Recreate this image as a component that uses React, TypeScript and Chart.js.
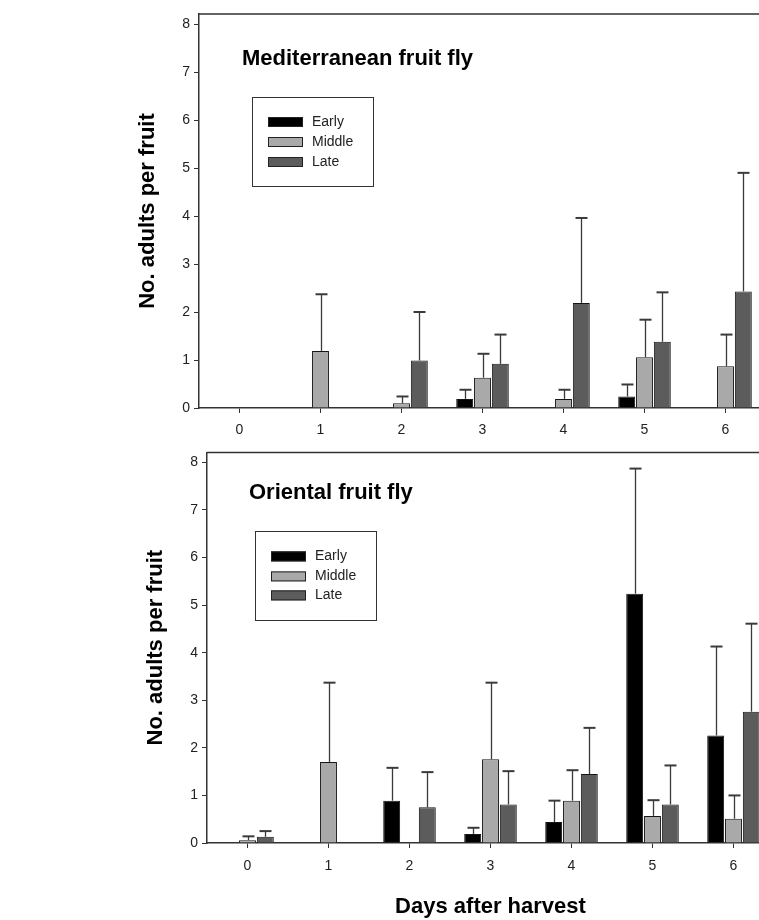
import React, { useEffect, useRef } from 'react';
import { Chart, registerables } from 'chart.js';

Chart.register(...registerables);

// ---------- data ----------
const days = ['0', '1', '2', '3', '4', '5', '6'];
const seriesNames = ['Early', 'Middle', 'Late'];
const seriesColors = ['#000000', '#a9a9a9', '#5c5c5c'];
const yTickValues = [0, 1, 2, 3, 4, 5, 6, 7, 8];

// Mediterranean fruit fly: means and upper standard errors
const medEarly = [0, 0, 0, 0.19, 0, 0.24, 0];
const medEarlyErr = [null, null, null, 0.19, null, 0.25, null];
const medMiddle = [0, 1.19, 0.1, 0.63, 0.19, 1.06, 0.87];
const medMiddleErr = [null, 1.18, 0.14, 0.5, 0.19, 0.78, 0.66];
const medLate = [0, 0, 0.99, 0.92, 2.19, 1.38, 2.43];
const medLateErr = [null, null, 1.01, 0.61, 1.77, 1.03, 2.47];

// Oriental fruit fly: means and upper standard errors
const oriEarly = [0, 0, 0.89, 0.19, 0.44, 5.24, 2.26];
const oriEarlyErr = [null, null, 0.69, 0.13, 0.45, 2.63, 1.87];
const oriMiddle = [0.06, 1.7, 0, 1.76, 0.89, 0.57, 0.51];
const oriMiddleErr = [0.08, 1.67, null, 1.61, 0.64, 0.33, 0.49];
const oriLate = [0.13, 0, 0.75, 0.81, 1.45, 0.81, 2.76];
const oriLateErr = [0.12, null, 0.74, 0.7, 0.97, 0.82, 1.85];

const TICK_FONT = "'Liberation Sans Narrow', 'Liberation Sans', Arial, sans-serif";
const BOLD_FONT = "'Liberation Sans', Arial, sans-serif";
const AXIS_COLOR = '#333333';
const TITLE_SIZE = 22;

// ---------- plugins ----------
const errorBarPlugin = {
  id: 'errorBars',
  afterDatasetsDraw(chart: any) {
    const ctx = chart.ctx;
    const yScale = chart.scales.y;
    ctx.save();
    ctx.strokeStyle = '#3a3a3a';
    chart.data.datasets.forEach((ds: any, i: number) => {
      const meta = chart.getDatasetMeta(i);
      (ds.errorPlus || []).forEach((err: number | null, j: number) => {
        if (err == null) return;
        const bar = meta.data[j];
        if (!bar) return;
        const yTop = yScale.getPixelForValue(ds.data[j] + err);
        const x = Math.round(bar.x) + 0.5;
        ctx.lineWidth = 1.3;
        ctx.beginPath();
        ctx.moveTo(x, bar.y);
        ctx.lineTo(x, yTop);
        ctx.stroke();
        ctx.lineWidth = 2;
        ctx.beginPath();
        ctx.moveTo(x - 6, yTop);
        ctx.lineTo(x + 6, yTop);
        ctx.stroke();
      });
    });
    ctx.restore();
  },
};

const panelPlugin = {
  id: 'panelDecor',
  afterDraw(chart: any, _args: any, opts: any) {
    const ctx = chart.ctx;
    const { left, top, right, bottom } = chart.chartArea;
    ctx.save();
    // frame (top and right)
    ctx.strokeStyle = AXIS_COLOR;
    ctx.lineWidth = 1.5;
    ctx.beginPath();
    ctx.moveTo(left, top);
    ctx.lineTo(right, top);
    ctx.lineTo(right, bottom);
    ctx.stroke();

    // panel title
    ctx.fillStyle = '#000';
    ctx.font = `bold ${TITLE_SIZE}px ${BOLD_FONT}`;
    ctx.textBaseline = 'middle';
    ctx.textAlign = 'left';
    ctx.fillText(opts.title, left + opts.titleDx, top + opts.titleDy);

    // legend box
    const bx = left + opts.legendDx;
    const by = top + opts.legendDy;
    ctx.lineWidth = 1;
    ctx.strokeStyle = AXIS_COLOR;
    ctx.strokeRect(Math.round(bx) + 0.5, Math.round(by) + 0.5, opts.legendW, opts.legendH);
    ctx.font = `14px ${BOLD_FONT}`;
    chart.data.datasets.forEach((ds: any, i: number) => {
      const cy = by + opts.rowY[i];
      ctx.fillStyle = ds.backgroundColor;
      ctx.fillRect(bx + 16, cy - 5, 35, 10);
      ctx.strokeStyle = '#222';
      ctx.strokeRect(bx + 16.5, cy - 4.5, 34, 9);
      ctx.fillStyle = '#222';
      ctx.fillText(ds.label, bx + 60, cy);
    });
    ctx.restore();
  },
};

function makeDatasets(values: number[][], errors: (number | null)[][]) {
  return seriesNames.map((name, i) => ({
    label: name,
    data: values[i],
    errorPlus: errors[i],
    backgroundColor: seriesColors[i],
    borderColor: '#151515',
    borderWidth: 1,
    categoryPercentage: 0.66,
    barPercentage: 0.95,
  }));
}

function makeConfig(p: {
  datasets: any[];
  axisWidth: number;
  yTitleCenter: number;
  padTop: number;
  padRight: number;
  xHeight: number;
  xLabelPad: number;
  xTitle: string | null;
  decor: any;
}): any {
  const tickFont = { family: TICK_FONT, size: 14 };
  const half = (TITLE_SIZE * 1.2) / 2;
  return {
    type: 'bar',
    data: { labels: days, datasets: p.datasets },
    plugins: [errorBarPlugin, panelPlugin],
    options: {
      animation: false,
      responsive: false,
      maintainAspectRatio: false,
      layout: { padding: { top: p.padTop, right: p.padRight, left: 0, bottom: 0 } },
      plugins: {
        legend: { display: false },
        tooltip: { enabled: false },
        panelDecor: p.decor,
      },
      scales: {
        x: {
          offset: true,
          grid: { offset: false, drawOnChartArea: false, drawTicks: true, tickLength: 5, color: AXIS_COLOR, lineWidth: 1 },
          border: { color: AXIS_COLOR, width: 1.5 },
          ticks: { color: '#222', font: tickFont, padding: p.xLabelPad, maxRotation: 0, autoSkip: false },
          title: p.xTitle
            ? {
                display: true,
                text: p.xTitle,
                color: '#000',
                font: { family: BOLD_FONT, size: TITLE_SIZE, weight: 'bold' },
                padding: { top: 0, bottom: 0 },
              }
            : { display: false },
          afterFit: (s: any) => {
            s.height = p.xHeight;
          },
        },
        y: {
          min: 0,
          max: 8.21,
          afterBuildTicks: (s: any) => {
            s.ticks = yTickValues.map((v) => ({ value: v }));
          },
          grid: { drawOnChartArea: false, drawTicks: true, tickLength: 5, color: AXIS_COLOR, lineWidth: 1 },
          border: { color: AXIS_COLOR, width: 1.5 },
          ticks: { color: '#222', font: tickFont, padding: 4 },
          title: {
            display: true,
            text: 'No. adults per fruit',
            color: '#000',
            font: { family: BOLD_FONT, size: TITLE_SIZE, weight: 'bold' },
            padding: { top: p.yTitleCenter - half, bottom: 0 },
          },
          afterFit: (s: any) => {
            s.width = p.axisWidth;
          },
        },
      },
    },
  };
}

export default function App() {
  const topRef = useRef<HTMLCanvasElement>(null);
  const botRef = useRef<HTMLCanvasElement>(null);

  useEffect(() => {
    const topChart = new Chart(
      topRef.current as HTMLCanvasElement,
      makeConfig({
        datasets: makeDatasets([medEarly, medMiddle, medLate], [medEarlyErr, medMiddleErr, medLateErr]),
        axisWidth: 199,
        yTitleCenter: 148,
        padTop: 14,
        padRight: 34,
        xHeight: 32,
        xLabelPad: 9,
        xTitle: null,
        decor: {
          title: 'Mediterranean fruit fly',
          titleDx: 43,
          titleDy: 45,
          legendDx: 53,
          legendDy: 83,
          legendW: 121,
          legendH: 89,
          rowY: [25, 45, 65],
        },
      })
    );
    const botChart = new Chart(
      botRef.current as HTMLCanvasElement,
      makeConfig({
        datasets: makeDatasets([oriEarly, oriMiddle, oriLate], [oriEarlyErr, oriMiddleErr, oriLateErr]),
        axisWidth: 207,
        yTitleCenter: 156,
        padTop: 10,
        padRight: 46,
        xHeight: 77,
        xLabelPad: 10,
        xTitle: 'Days after harvest',
        decor: {
          title: 'Oriental fruit fly',
          titleDx: 42,
          titleDy: 41,
          legendDx: 48,
          legendDy: 79,
          legendW: 121,
          legendH: 89,
          rowY: [25, 45, 64],
        },
      })
    );
    return () => {
      topChart.destroy();
      botChart.destroy();
    };
  }, []);

  return (
    <div
      style={{
        position: 'absolute',
        left: 0,
        top: 0,
        width: 759,
        height: 920,
        overflow: 'hidden',
        background: '#fff',
      }}
    >
      <canvas
        ref={topRef}
        width={800}
        height={440}
        style={{ position: 'absolute', left: 0, top: 0, width: 800, height: 440 }}
      />
      <canvas
        ref={botRef}
        width={820}
        height={480}
        style={{ position: 'absolute', left: 0, top: 440, width: 820, height: 480 }}
      />
    </div>
  );
}
